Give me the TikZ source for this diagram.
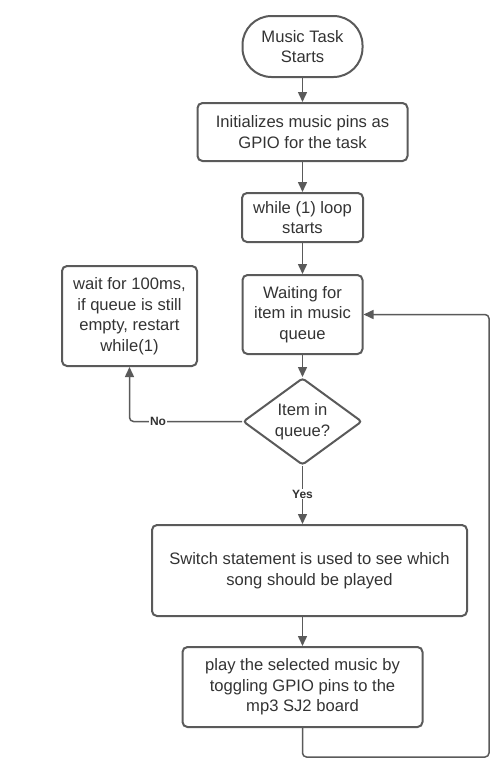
\documentclass[tikz,border=0pt]{standalone}
\usepackage{fontspec}
\setmainfont{Liberation Sans}
\usetikzlibrary{shapes.geometric,arrows.meta}
\definecolor{linegray}{HTML}{5A5A5A}
\definecolor{textgray}{HTML}{333333}
\begin{document}
\begin{tikzpicture}[x=1pt,y=-1pt,
    box/.style={draw=linegray,line width=2pt,rounded corners=5pt,align=center,
        text=textgray,inner sep=0pt,font=\fontsize{16.6}{20.5}\selectfont},
    term/.style={box,rounded corners=29pt},
    decide/.style={box,shape=diamond,rounded corners=3pt,aspect=1.37},
    flow/.style={draw=linegray,line width=1.5pt,-{Triangle[length=10pt,width=9pt]}},
    tag/.style={fill=white,text=textgray,inner sep=1pt,font=\fontsize{12}{14}\bfseries}]
        % frame
        \useasboundingbox (0,0) rectangle (500,772);
        % boxes
        \node[term,minimum width=120pt,minimum height=61pt] (start) at (302.5,46.5) {Music Task\\Starts};
        \node[box,minimum width=210pt,minimum height=58pt] (init) at (302.5,132) {Initializes music pins as\\GPIO for the task};
        \node[box,minimum width=121pt,minimum height=49pt] (loop) at (302.5,217.5) {while (1) loop\\starts};
        \node[box,minimum width=120pt,minimum height=79pt] (wait) at (302.5,314.5) {Waiting for\\item in music\\queue};
        \node[box,minimum width=135pt,minimum height=100pt] (delay) at (129.5,316) {wait for 100ms,\\if queue is still\\empty, restart\\while(1)};
        \node[decide,minimum width=119pt,minimum height=87pt] (check) at (302.5,421.5) {Item in\\queue?};
        \node[box,minimum width=315pt,minimum height=91pt] (switch) at (309.5,570.5) {Switch statement is used to see which\\song should be played};
        \node[box,minimum width=240pt,minimum height=80pt] (play) at (302.5,687) {play the selected music by\\toggling GPIO pins to the\\mp3 SJ2 board};
        \coordinate (back) at (489,757);
        % arrows
        \draw[flow] (start) -- (init);
        \draw[flow] (init) -- (loop);
        \draw[flow] (loop) -- (wait);
        \draw[flow] (wait) -- (check);
        \draw[flow,rounded corners=4pt] (check.west) -| (delay.south);
        \draw[flow] (check.south) -- (check.south |- switch.north);
        \draw[flow] (switch.south -| play.north) -- (play.north);
        \draw[flow,rounded corners=4pt] (play.south) |- (back) |- (wait.east);
        % text
        \node[tag] (no) at (158,421.5) {No};
        \node[tag] (yes) at (302.5,494) {Yes};
\end{tikzpicture}
\end{document}
